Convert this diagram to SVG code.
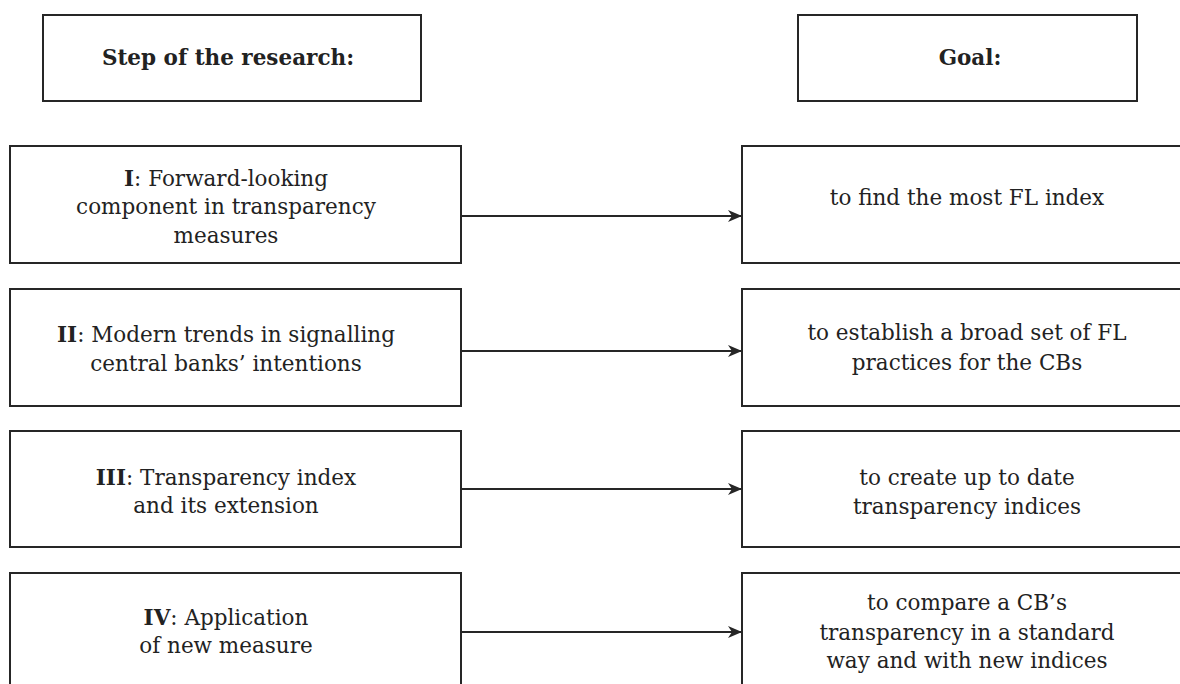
<svg xmlns="http://www.w3.org/2000/svg" width="1180" height="684" viewBox="0 0 1180 684">
<defs>
<style>
.box{fill:#fff;stroke:#262626;stroke-width:2}
.t{font-family:"DejaVu Serif","Liberation Serif",serif;font-size:21.5px;fill:#222;text-anchor:middle}
.h{font-weight:bold}
.b{font-weight:bold}
.conn{stroke:#262626;stroke-width:2;fill:none}
</style>
<marker id="arr" markerWidth="14" markerHeight="12" refX="14" refY="6" orient="auto" markerUnits="userSpaceOnUse">
<path d="M0,0 L14,6 L0,12 L4,6 Z" fill="#262626"/>
</marker>
</defs>
<rect width="1180" height="684" fill="#fff"/>
<g id="header-step">
<rect class="box" x="43" y="15" width="378" height="86"/>
<text class="t h" x="228" y="65">Step of the research:</text>
</g>
<g id="header-goal">
<rect class="box" x="798" y="15" width="339" height="86"/>
<text class="t h" x="970" y="65">Goal:</text>
</g>
<g id="step1">
<rect class="box" x="10" y="146" width="451" height="117"/>
<text class="t" x="226" y="185.5"><tspan class="b">I</tspan>: Forward-looking</text>
<text class="t" x="226" y="214">component in transparency</text>
<text class="t" x="226" y="242.5">measures</text>
</g>
<g id="step2">
<rect class="box" x="10" y="289" width="451" height="117"/>
<text class="t" x="226" y="342"><tspan class="b">II</tspan>: Modern trends in signalling</text>
<text class="t" x="226" y="371">central banks’ intentions</text>
</g>
<g id="step3">
<rect class="box" x="10" y="431" width="451" height="116"/>
<text class="t" x="226" y="485"><tspan class="b">III</tspan>: Transparency index</text>
<text class="t" x="226" y="513">and its extension</text>
</g>
<g id="step4">
<rect class="box" x="10" y="573" width="451" height="117"/>
<text class="t" x="226" y="625"><tspan class="b">IV</tspan>: Application</text>
<text class="t" x="226" y="653">of new measure</text>
</g>
<g id="goal1">
<rect class="box" x="742" y="146" width="460" height="117"/>
<text class="t" x="967" y="205">to find the most FL index</text>
</g>
<g id="goal2">
<rect class="box" x="742" y="289" width="460" height="117"/>
<text class="t" x="967" y="340">to establish a broad set of FL</text>
<text class="t" x="967" y="370">practices for the CBs</text>
</g>
<g id="goal3">
<rect class="box" x="742" y="431" width="460" height="116"/>
<text class="t" x="967" y="485">to create up to date</text>
<text class="t" x="967" y="514">transparency indices</text>
</g>
<g id="goal4">
<rect class="box" x="742" y="573" width="460" height="117"/>
<text class="t" x="967" y="610">to compare a CB’s</text>
<text class="t" x="967" y="640">transparency in a standard</text>
<text class="t" x="967" y="668">way and with new indices</text>
</g>
<g id="connectors">
<line class="conn" x1="461" y1="216" x2="742" y2="216" marker-end="url(#arr)"/>
<line class="conn" x1="461" y1="351" x2="742" y2="351" marker-end="url(#arr)"/>
<line class="conn" x1="461" y1="489" x2="742" y2="489" marker-end="url(#arr)"/>
<line class="conn" x1="461" y1="632" x2="742" y2="632" marker-end="url(#arr)"/>
</g>
</svg>
